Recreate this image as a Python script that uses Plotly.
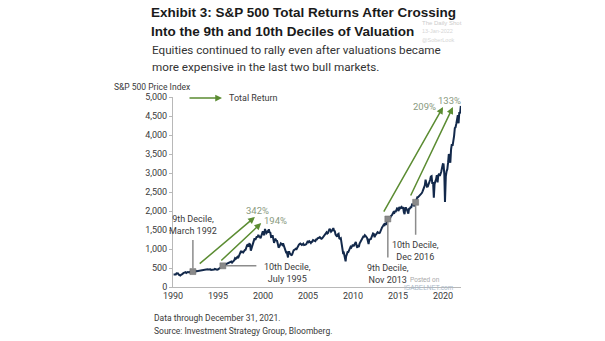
import numpy as np
import plotly.graph_objects as go

# S&P 500 month-end closes, January 1990 - December 2021
start_year = 1990
spx_close = [
    329, 332, 340, 331, 361, 358, 356, 323, 306, 304, 322, 330,
    344, 367, 375, 375, 390, 371, 388, 395, 388, 392, 375, 417,
    409, 413, 404, 415, 415, 408, 424, 414, 418, 419, 431, 436,
    439, 443, 452, 440, 450, 451, 448, 464, 459, 468, 462, 466,
    482, 467, 446, 451, 457, 444, 458, 475, 463, 472, 454, 459,
    470, 487, 501, 515, 533, 545, 562, 562, 584, 582, 605, 616,
    636, 640, 646, 654, 669, 671, 640, 652, 687, 705, 757, 741,
    786, 791, 757, 801, 848, 885, 954, 899, 947, 915, 955, 970,
    980, 1049, 1102, 1112, 1091, 1134, 1121, 957, 1017, 1099, 1164, 1229,
    1280, 1238, 1286, 1335, 1302, 1373, 1329, 1320, 1283, 1363, 1389, 1469,
    1394, 1366, 1499, 1452, 1421, 1455, 1431, 1518, 1437, 1429, 1315, 1320,
    1366, 1240, 1160, 1249, 1256, 1224, 1211, 1134, 1041, 1060, 1139, 1148,
    1130, 1107, 1147, 1077, 1067, 990, 912, 916, 815, 886, 936, 880,
    856, 841, 848, 917, 964, 975, 990, 1008, 996, 1051, 1058, 1112,
    1131, 1145, 1126, 1107, 1121, 1141, 1102, 1104, 1115, 1130, 1174, 1212,
    1181, 1204, 1181, 1157, 1192, 1191, 1234, 1220, 1229, 1207, 1249, 1248,
    1280, 1281, 1295, 1311, 1270, 1270, 1277, 1304, 1336, 1378, 1401, 1418,
    1438, 1407, 1421, 1482, 1531, 1503, 1455, 1474, 1527, 1549, 1481, 1468,
    1379, 1331, 1323, 1386, 1400, 1280, 1267, 1283, 1166, 969, 896, 903,
    826, 735, 798, 873, 919, 919, 987, 1021, 1057, 1036, 1096, 1115,
    1074, 1104, 1169, 1187, 1089, 1031, 1102, 1049, 1141, 1183, 1181, 1258,
    1286, 1327, 1326, 1364, 1345, 1321, 1292, 1219, 1131, 1253, 1247, 1258,
    1312, 1366, 1408, 1398, 1310, 1362, 1379, 1407, 1441, 1412, 1416, 1426,
    1498, 1515, 1569, 1598, 1631, 1606, 1686, 1633, 1682, 1757, 1806, 1848,
    1783, 1859, 1872, 1884, 1924, 1960, 1931, 2003, 1972, 2018, 2068, 2059,
    1995, 2105, 2068, 2086, 2107, 2063, 2104, 1972, 1920, 2079, 2080, 2044,
    1940, 1932, 2060, 2065, 2097, 2099, 2174, 2171, 2168, 2126, 2199, 2239,
    2279, 2364, 2363, 2384, 2412, 2423, 2470, 2472, 2519, 2575, 2648, 2674,
    2824, 2714, 2641, 2648, 2705, 2718, 2816, 2902, 2914, 2712, 2760, 2507,
    2704, 2784, 2834, 2946, 2752, 2942, 2980, 2926, 2977, 3038, 3141, 3231,
    3226, 2954, 2585, 2912, 3044, 3100, 3271, 3500, 3363, 3270, 3622, 3756,
    3714, 3811, 3973, 4181, 4204, 4298, 4395, 4523, 4308, 4605, 4567, 4766,
]

# Intra-month extremes (decimal year, level)
extreme_dates = [2000.22, 2002.78, 2009.18, 2018.98, 2020.22]
extreme_levels = [1527, 777, 676, 2351, 2237]

# Valuation decile crossings
decile_dates = [1992.21, 1995.54, 2013.87, 2016.96]
decile_text = ["9th Decile,<br>March 1992", "10th Decile,<br>July 1995",
               "9th Decile,<br>Nov 2013", "10th Decile,<br>Dec 2016"]

# Total-return arrows: start (year, level) -> end (year, level)
return_labels = ["342%", "194%", "209%", "133%"]
arrow_start_x = [1992.8, 1995.2, 2013.33, 2016.33]
arrow_start_y = [580, 660, 1946, 2367]
arrow_end_x = [1999.1, 1999.8, 2020.0, 2021.1]
arrow_end_y = [1842, 1683, 4734, 4734]

# Build the series
t = start_year + (np.arange(len(spx_close)) + 1.0) / 12.0 - 0.02
x = np.concatenate([t, extreme_dates])
y = np.concatenate([np.array(spx_close, float), extreme_levels])
order = np.argsort(x)
x, y = x[order], y[order]

NAVY = "#13294b"
GREEN = "#5b8c32"
GREY_LBL = "#8a9a80"
TXT = "#3a3a3a"
FONT = "Roboto, Arial"
BOLD = "Liberation Sans, Arial"

fig = go.Figure()
fig.add_trace(go.Scatter(x=x, y=y, mode="lines",
                         line=dict(color=NAVY, width=2), hoverinfo="skip"))

decile_y = np.interp(decile_dates, x, y)
fig.add_trace(go.Scatter(x=decile_dates, y=decile_y, mode="markers",
                         marker=dict(symbol="square", size=6, color="#8a8a8a",
                                     line=dict(color="#6d6d6d", width=0.5)),
                         hoverinfo="skip"))

ann = []

# leader lines from each decile marker (pixel offsets of the free end)
leader_end = [(0, -33), (35, 0), (0, 40), (0, 34)]
for dx, dy, (ox, oy) in zip(decile_dates, decile_y, leader_end):
    ann.append(dict(x=dx, y=dy, xref="x", yref="y", text="", showarrow=True,
                    arrowhead=0, arrowwidth=1.5, arrowcolor="#8c8c8c",
                    ax=ox, ay=oy, standoff=3))

# callout texts at the free end of each leader line
text_pos = [(0, 34, "center", "bottom"), (39, 6, "left", "top"),
            (0, -42, "center", "top"), (0, -36, "center", "top")]
for dx, dy, s, (sx, sy, xa, ya) in zip(decile_dates, decile_y, decile_text, text_pos):
    ann.append(dict(x=dx, y=dy, xref="x", yref="y", text=s, showarrow=False,
                    xshift=sx, yshift=sy, xanchor=xa, yanchor=ya, align="center",
                    font=dict(family=FONT, size=9, color=TXT)))

# green total-return arrows
for sx, sy, ex, ey in zip(arrow_start_x, arrow_start_y, arrow_end_x, arrow_end_y):
    ann.append(dict(x=ex, y=ey, ax=sx, ay=sy, xref="x", yref="y",
                    axref="x", ayref="y", text="", showarrow=True,
                    arrowhead=2, arrowsize=0.9, arrowwidth=1.5,
                    arrowcolor=GREEN))

# return labels next to the arrow heads (pixel shifts from the head)
label_shift = [(3, -1, "center", "bottom"), (1, 3, "left", "middle"),
               (-5, 1, "right", "middle"), (-3, -1, "center", "bottom")]
for lbl, ex, ey, (sx, sy, xa, ya) in zip(return_labels, arrow_end_x, arrow_end_y, label_shift):
    ann.append(dict(x=ex, y=ey, xref="x", yref="y", text=lbl,
                    showarrow=False, xshift=sx, yshift=sy,
                    xanchor=xa, yanchor=ya,
                    font=dict(family=FONT, size=9.5, color=GREY_LBL)))


def px(xp, yp):
    """Page pixel position -> axis-domain fraction."""
    return (xp - 173) / 288.0, 1 - (yp - 97) / 190.0


# legend: arrow + label
lx0, ly = px(188, 98)
lx1, _ = px(222, 98)
ann.append(dict(x=lx1, y=ly, ax=lx0, ay=ly, xref="x domain", yref="y domain",
                axref="x domain", ayref="y domain", text="", showarrow=True,
                arrowhead=2, arrowsize=0.9, arrowwidth=1.5, arrowcolor=GREEN))
tx, _ = px(227, 98)
ann.append(dict(x=tx, y=ly, xref="x domain", yref="y domain", text="Total Return",
                showarrow=False, xanchor="left", yanchor="middle",
                font=dict(family=FONT, size=9, color=TXT)))


def txt(xp, yp, s, size, color, bold=False, family=FONT, anchor="left"):
    xx, yy = px(xp, yp)
    if bold:
        s = "<b>" + s + "</b>"
    ann.append(dict(x=xx, y=yy, xref="x domain", yref="y domain", text=s,
                    showarrow=False, xanchor=anchor, yanchor="middle",
                    font=dict(family=family, size=size, color=color)))


txt(149, 13, "Exhibit 3: S&P 500 Total Returns After Crossing", 13.5, "#1a1a1a", True, BOLD)
txt(149, 31, "Into the 9th and 10th Deciles of Valuation", 13.5, "#1a1a1a", True, BOLD)
txt(150, 50, "Equities continued to rally even after valuations became", 11.7, "#333333")
txt(150, 67, "more expensive in the last two bull markets.", 11.7, "#333333")
txt(112, 87, "S&P 500 Price Index", 8.5, TXT)
txt(152, 318, "Data through December 31, 2021.", 8.5, TXT)
txt(152, 331, "Source: Investment Strategy Group, Bloomberg.", 8.5, TXT)

# faint watermarks
txt(420, 23, "The Daily Shot", 6, "#cccccc", family="Liberation Sans, Arial")
txt(420, 31, "13-Jan-2022", 5.5, "#d6d6d6", family="Liberation Sans, Arial")
txt(420, 40, "@SoberLook", 5.5, "#d6d6d6", family="Liberation Sans, Arial")
txt(408, 279, "Posted on", 6.5, "#a8a8a8", family="Liberation Sans, Arial")
txt(402, 287, "ISABELNET.com", 6.5, "#a9b9c9", family="Liberation Sans, Arial")

fig.update_layout(
    width=605, height=341,
    margin=dict(l=173, r=144, t=97, b=54),
    paper_bgcolor="white", plot_bgcolor="white",
    showlegend=False,
    annotations=ann,
    xaxis=dict(range=[1990, 2022], tickmode="array",
               tickvals=[1990, 1995, 2000, 2005, 2010, 2015, 2020],
               ticktext=["1990", "1995", "2000", "2005", "2010", "2015", "2020"],
               showgrid=False, zeroline=False, showline=True,
               linecolor="#b8b8b8", linewidth=1, ticks="",
               tickfont=dict(family=FONT, size=9, color=TXT)),
    yaxis=dict(range=[0, 5000], tickvals=list(range(0, 5001, 500)),
               tickformat=",", showgrid=False, zeroline=False, showline=True,
               linecolor="#b8b8b8", linewidth=1, ticks="outside", ticklen=3,
               tickcolor="#b8b8b8",
               tickfont=dict(family=FONT, size=9, color=TXT)),
)

fig.write_html("out.html")
